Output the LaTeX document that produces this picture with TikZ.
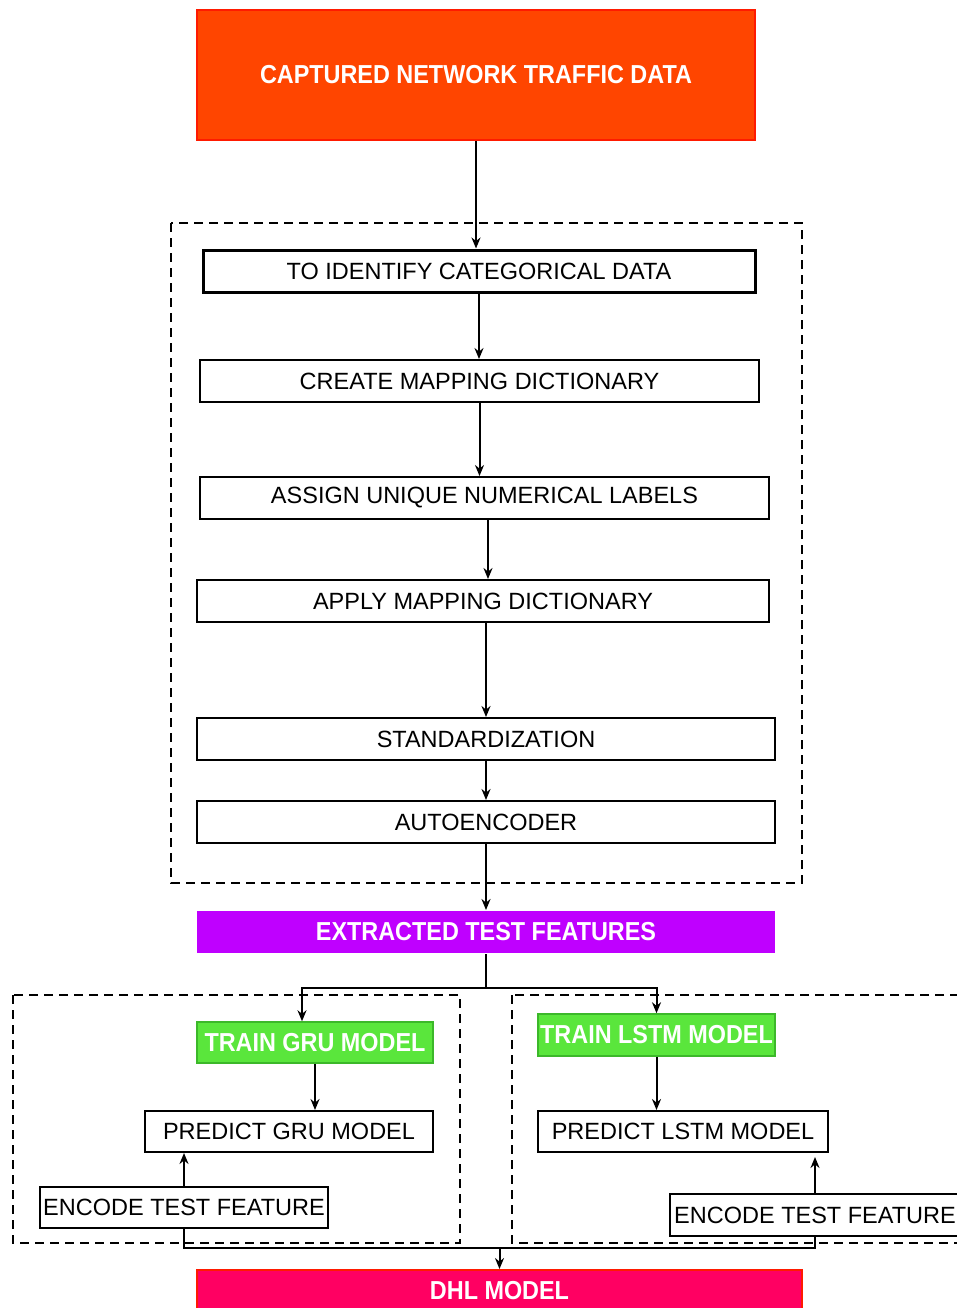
\documentclass[tikz,border=0pt]{standalone}
\usepackage{fontspec}
\setmainfont{Liberation Sans}
\newfontfamily\boxfont{Liberation Sans}
\newfontfamily\headfont[FakeStretch=0.9]{Liberation Sans}
\usetikzlibrary{arrows.meta}

\definecolor{capfill}{HTML}{FF4500}
\definecolor{capline}{HTML}{FF1A00}
\definecolor{featfill}{HTML}{BF00FF}
\definecolor{trainfill}{HTML}{5AE63C}
\definecolor{trainline}{HTML}{3CB82A}
\definecolor{dhlfill}{HTML}{FF0062}

\tikzset{
  plain/.style={draw=black, line width=2pt, fill=white, inner sep=0pt,
    font=\boxfont\fontsize{23.5}{23.5}\selectfont},
  head/.style={inner sep=0pt, text=white, line width=2pt,
    font=\headfont\bfseries\fontsize{26}{26}\selectfont},
  arr/.style={-{Stealth[length=11pt,width=9pt]}, line width=2pt},
  link/.style={line width=2pt},
  group/.style={draw=black, line width=1.8pt, dash pattern=on 9pt off 6pt},
}

\begin{document}
\begin{tikzpicture}[x=1pt,y=-1pt]
\useasboundingbox (0,0) rectangle (957,1308);
\clip (0,0) rectangle (957,1308);
\fill[white] (0,0) rectangle (957,1308);

% dashed groups
\draw[group] (171,223) rectangle (802,883);
\draw[group] (13,995) rectangle (460,1243);
\draw[group] (512,995) rectangle (975,1243);

% source
\node[head, fill=capfill, draw=capline, minimum width=558, minimum height=130]
  (top) at (476,75) {CAPTURED NETWORK TRAFFIC DATA};

% preprocessing chain
\node[plain, line width=3pt, minimum width=552, minimum height=42]
  (ident) at (479,271) {TO IDENTIFY CATEGORICAL DATA};
\node[plain, minimum width=559, minimum height=42]
  (create) at (479.5,381) {CREATE MAPPING DICTIONARY};
\node[plain, minimum width=569, minimum height=42]
  (assign) at (484.5,498) {ASSIGN UNIQUE NUMERICAL LABELS};
\node[plain, minimum width=572, minimum height=42]
  (apply) at (483,601) {APPLY MAPPING DICTIONARY};
\node[plain, minimum width=578, minimum height=42]
  (stand) at (486,739) {STANDARDIZATION};
\node[plain, minimum width=578, minimum height=42]
  (auto) at (486,822) {AUTOENCODER};

% features
\node[head, fill=featfill, minimum width=578, minimum height=42]
  (extr) at (486,932) {EXTRACTED TEST FEATURES};

% GRU branch
\node[head, fill=trainfill, draw=trainline, line width=1.5pt, minimum width=236, minimum height=41]
  (gru) at (315,1042.5) {TRAIN GRU MODEL};
\node[plain, minimum width=288, minimum height=41]
  (pgru) at (289,1131.5) {PREDICT GRU MODEL};
\node[plain, minimum width=288, minimum height=41]
  (egru) at (184,1207.5) {ENCODE TEST FEATURE};

% LSTM branch
\node[head, fill=trainfill, draw=trainline, line width=1.5pt, minimum width=237, minimum height=42]
  (lstm) at (656.5,1035) {TRAIN LSTM MODEL};
\node[plain, minimum width=290, minimum height=41]
  (plstm) at (683,1131.5) {PREDICT LSTM MODEL};
\node[plain, minimum width=290, minimum height=42]
  (elstm) at (815,1215) {ENCODE TEST FEATURE};

% result
\node[head, fill=dhlfill, draw=capline, minimum width=605, minimum height=42]
  (dhl) at (499.5,1291) {DHL MODEL};

% connectors
\draw[arr] (top.south) -- (top.south |- ident.north);
\draw[arr] (ident.south) -- (ident.south |- create.north);
\draw[arr] (create.south) -- (create.south |- assign.north);
\draw[arr] ([xshift=3.5pt]assign.south) -- ([xshift=3.5pt]assign.south |- apply.north);
\draw[arr] (stand.north |- apply.south) -- (stand.north);
\draw[arr] (stand.south) -- (auto.north);
\draw[arr] (auto.south) -- (extr.north);

\draw[link] (extr.south) -- ++(0,34) coordinate (split);
\draw[arr] (split) -| ([xshift=-13pt]gru.north);
\draw[arr] (split) -| (lstm.north);

\draw[arr] (gru.south) -- (gru.south |- pgru.north);
\draw[arr] (egru.north) -- (egru.north |- pgru.south);
\draw[arr] (lstm.south) -- (lstm.south |- plstm.north);
\draw[arr] (elstm.north) -- ([yshift=-4pt]elstm.north |- plstm.south);

\coordinate (merge) at (dhl.north |- 0,1248);
\draw[link] (egru.south) |- (merge) -| (elstm.south);
\draw[arr] (merge) -- (dhl.north);
\end{tikzpicture}
\end{document}
